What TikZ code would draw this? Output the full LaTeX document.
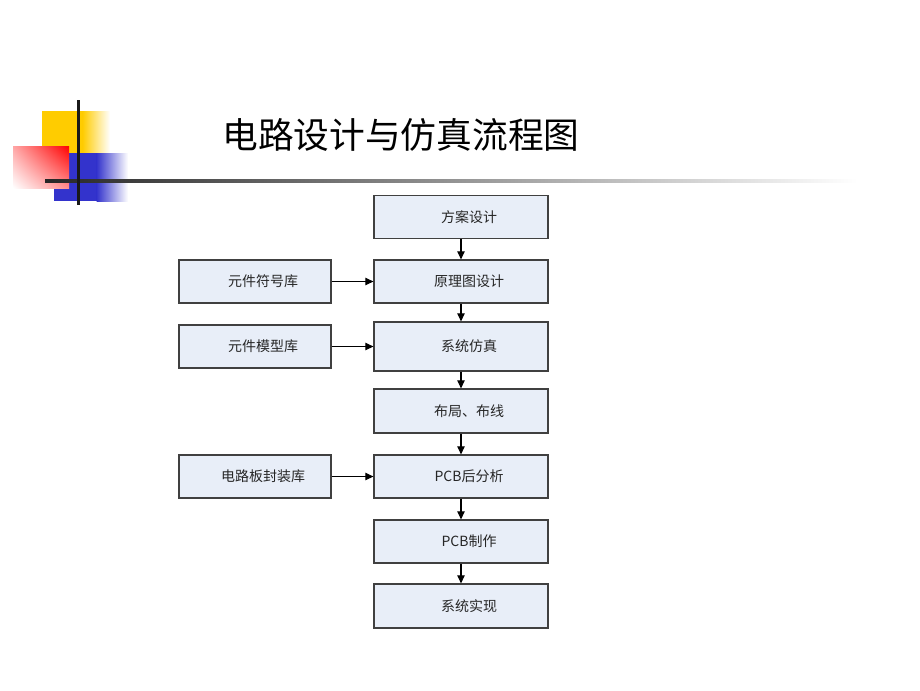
\documentclass[tikz,border=0pt]{standalone}
\usepackage{fontspec}
\setmainfont{Noto Sans CJK SC}
\usetikzlibrary{arrows.meta,shadings}
\definecolor{boxfill}{RGB}{232,238,248}
\definecolor{boxline}{RGB}{64,64,64}
\definecolor{decoyellow}{RGB}{255,204,0}
\definecolor{decoblue}{RGB}{51,51,204}
\tikzset{
  rbox/.style={draw=boxline, fill=boxfill, line width=0.9pt, minimum width=130.5pt, minimum height=32.25pt, inner sep=0pt, font=\fontsize{10.5pt}{12pt}\selectfont, text=black!85},
  lbox/.style={rbox, minimum width=114pt},
  flow/.style={-{Triangle[length=6pt,width=5.5pt]}, line width=0.8pt, black}
}
\newcommand{\sh}[1]{\hspace*{12pt}#1}
\begin{document}
\begin{tikzpicture}[x=0.75pt,y=-0.75pt]
\useasboundingbox (0,0) rectangle (920,690);
% decoration
\fill[decoyellow] (42,111) rectangle (83,153);
\shade[left color=decoyellow, right color=white] (82.5,111) rectangle (110,153);
\fill[decoblue] (54,153) rectangle (97,201);
\shade[left color=decoblue, right color=white] (96.5,153) rectangle (128,201);
\shade[upper right=red, lower left=white, upper left=red!35, lower right=red!45] (13,146) rectangle (69,188);
\shade[left color=black!85, right color=white] (45,179) rectangle (857,182);
\fill[black!90] (76.5,100) rectangle (79.5,205);
% title
\node[font=\fontsize{26.8pt}{30pt}\selectfont, anchor=west, inner sep=0pt] (title) at (222,135) {电路设计与仿真流程图};
% right column
\node[rbox] (a) at (461,217) {\sh{方案设计}};
\node[rbox] (b) at (461,281.5) {\sh{原理图设计}};
\node[rbox, minimum height=36.75pt] (c) at (461,346.5) {\sh{系统仿真}};
\node[rbox, minimum height=33pt] (d) at (461,411) {\sh{布局、布线}};
\node[rbox] (e) at (461,476.5) {\sh{PCB后分析}};
\node[rbox] (f) at (461,541.5) {\sh{PCB制作}};
\node[rbox, minimum height=33pt] (g) at (461,606) {\sh{系统实现}};
% left column
\node[lbox] (l1) at (255,281.5) {\sh{元件符号库}};
\node[lbox] (l2) at (255,346.5) {\sh{元件模型库}};
\node[lbox] (l3) at (255,476.5) {\sh{电路板封装库}};
% connectors
\draw[flow] (a) -- (b);
\draw[flow] (b) -- (c);
\draw[flow] (c) -- (d);
\draw[flow] (d) -- (e);
\draw[flow] (e) -- (f);
\draw[flow] (f) -- (g);
\draw[flow] (l1) -- (b);
\draw[flow] (l2) -- (c);
\draw[flow] (l3) -- (e);
\end{tikzpicture}
\end{document}
